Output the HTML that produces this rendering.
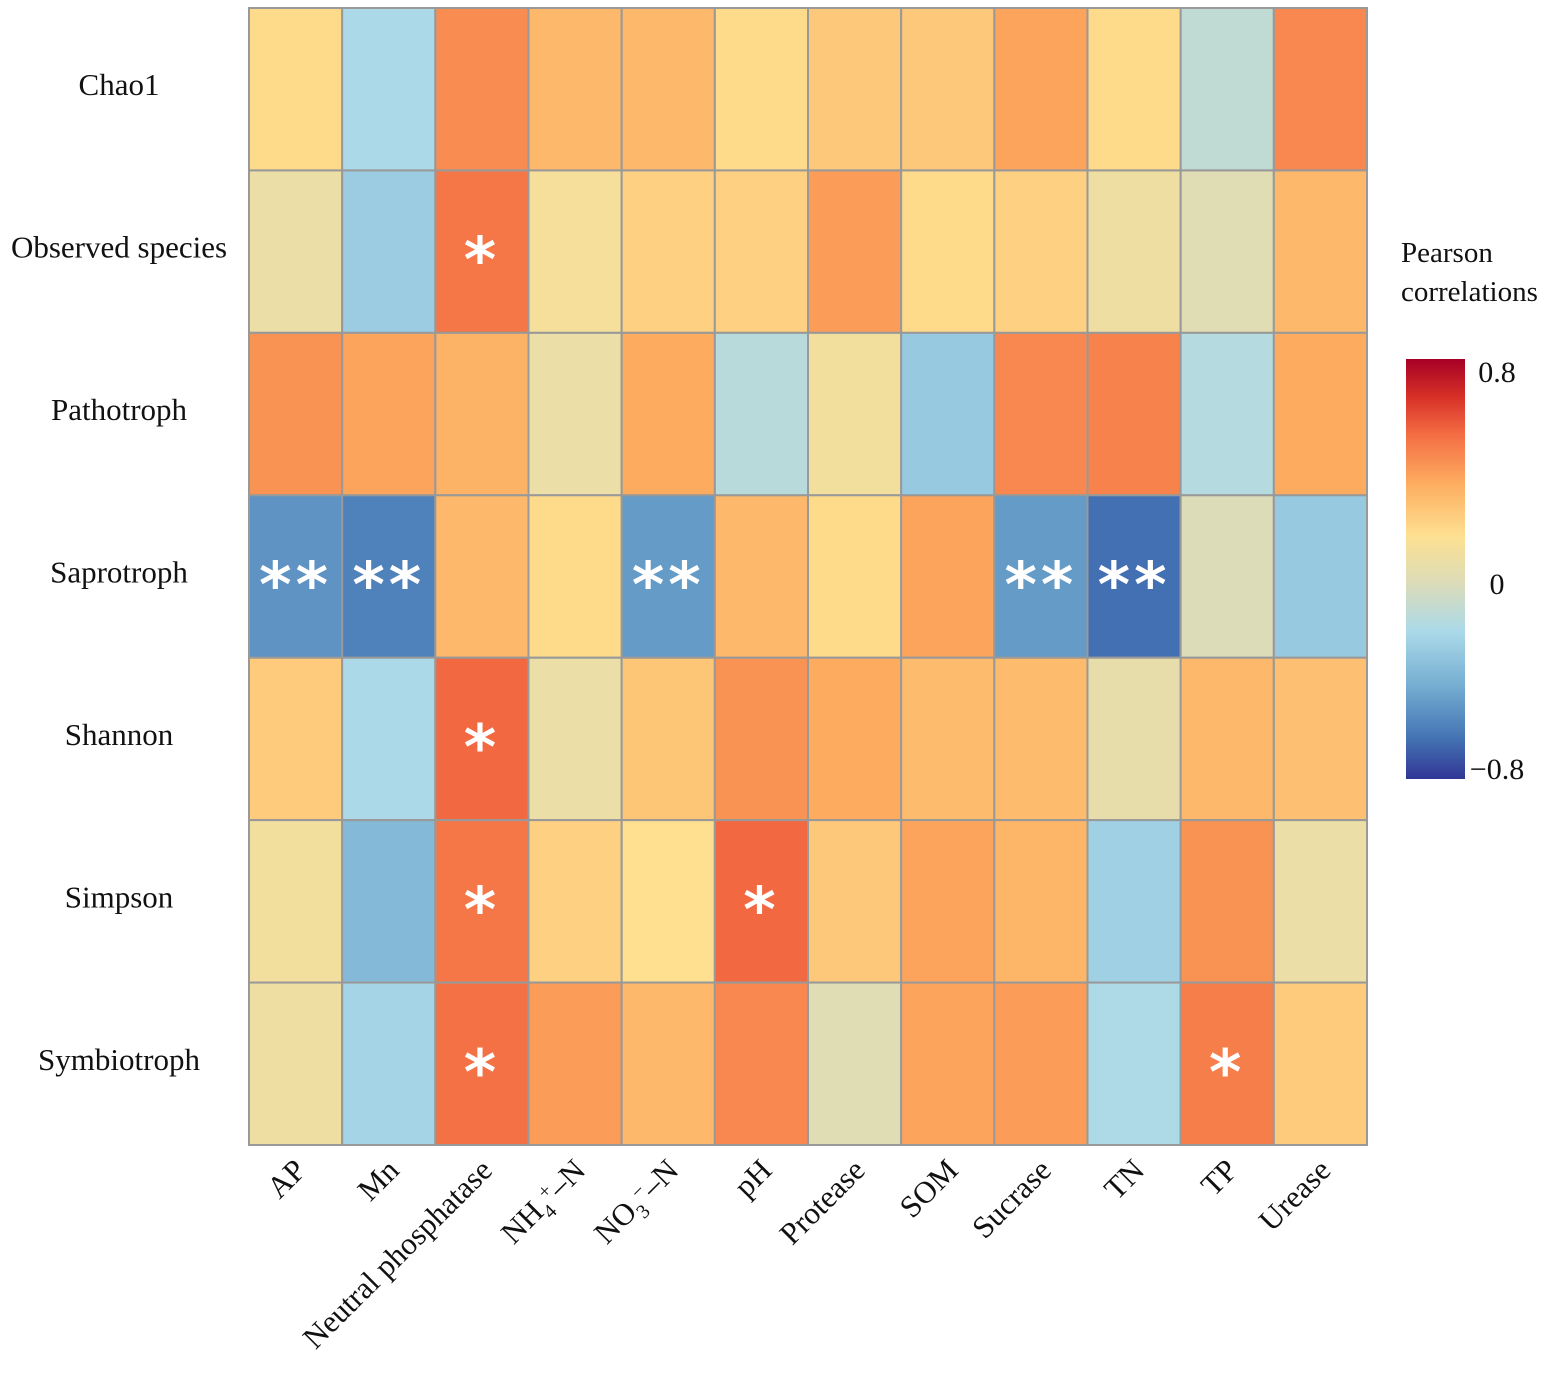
<!DOCTYPE html>
<html><head><meta charset="utf-8"><style>
body{margin:0;background:#fff}
svg{display:block;font-family:"Liberation Serif",serif}
</style></head><body>
<svg id="chart" width="1559" height="1374" viewBox="0 0 1559 1374">
<defs><linearGradient id="cb" x1="0" y1="1" x2="0" y2="0">
<stop offset="0" stop-color="#313695"/><stop offset="0.1" stop-color="#4575b4"/><stop offset="0.22" stop-color="#74add1"/><stop offset="0.35" stop-color="#abd9e9"/><stop offset="0.467" stop-color="#dcdcb8"/><stop offset="0.58" stop-color="#fee090"/><stop offset="0.7" stop-color="#fdae61"/><stop offset="0.82" stop-color="#f46d43"/><stop offset="0.91" stop-color="#d73027"/><stop offset="1" stop-color="#a50026"/>
</linearGradient></defs>
<g id="cells"></g><g id="rowlabels"></g><g id="collabels"></g><g id="legend"></g>
</svg>
<script>
const rows=["Chao1","Observed species","Pathotroph","Saprotroph","Shannon","Simpson","Symbiotroph"];
const cols=["AP","Mn","Neutral phosphatase","NH4+-N","NO3--N","pH","Protease","SOM","Sucrase","TN","TP","Urease"];
const rChao1=[.2,-.21,.47,.33,.33,.2,.27,.27,.4,.2,-.12,.48];
const rObs=[.08,-.28,.53,.13,.24,.24,.42,.2,.24,.1,.02,.33];
const rPatho=[.45,.4,.35,.08,.38,-.15,.12,-.3,.48,.5,-.17,.38];
const rSapro=[-.55,-.62,.33,.2,-.52,.33,.2,.4,-.52,-.68,0,-.3];
const rShannon=[.26,-.21,.57,.08,.28,.45,.38,.32,.32,.06,.33,.3];
const rSimpson=[.12,-.38,.53,.24,.18,.57,.27,.4,.34,-.26,.45,.08];
const rSymbio=[.1,-.24,.55,.42,.33,.48,.02,.4,.42,-.2,.51,.26];
const values=[rChao1,rObs,rPatho,rSapro,rShannon,rSimpson,rSymbio];
const sChao1=["","","","","","","","","","","",""];
const sObs=["","","*","","","","","","","","",""];
const sPatho=["","","","","","","","","","","",""];
const sSapro=["**","**","","","**","","","","**","**","",""];
const sShannon=["","","*","","","","","","","","",""];
const sSimpson=["","","*","","","*","","","","","",""];
const sSymbio=["","","*","","","","","","","","*",""];
const stars=[sChao1,sObs,sPatho,sSapro,sShannon,sSimpson,sSymbio];
const legendTicks=[0.8,0,-0.8];
const legendLabels=["0.8","0","\u22120.8"];

const NS="http://www.w3.org/2000/svg";
const X0=249,X1=1367,Y0=8,Y1=1145;
const cw=(X1-X0)/cols.length, rh=(Y1-Y0)/rows.length;
const stopF=[0,.1,.22,.35,.467,.58,.7,.82,.91,1];
const stopC=["#313695","#4575b4","#74add1","#abd9e9","#dcdcb8","#fee090","#fdae61","#f46d43","#d73027","#a50026"];
function frac(v){return v>=0?0.467+v*0.63:0.467+v*0.551;}
function hex(h){return [1,3,5].map(i=>parseInt(h.substr(i,2),16));}
function color(v){let f=Math.max(0,Math.min(1,frac(v)));let i=0;while(i<stopF.length-2&&f>stopF[i+1])i++;
const t=(f-stopF[i])/(stopF[i+1]-stopF[i]);const a=hex(stopC[i]),b=hex(stopC[i+1]);
return "rgb("+a.map((x,k)=>Math.round(x+(b[k]-x)*t)).join(",")+")";}
function xS(j){return X0+j*cw;} function yS(i){return Y0+i*rh;}
function el(t,a,p){const e=document.createElementNS(NS,t);for(const k in a)e.setAttribute(k,a[k]);p.appendChild(e);return e;}
const gc=document.getElementById("cells");
values.forEach((row,i)=>row.forEach((v,j)=>{
 const r=el("rect",{x:xS(j),y:yS(i),width:cw,height:rh,fill:color(v),stroke:"#999","stroke-width":2},gc);
 
 
 if(stars[i][j]){const s=el("text",{x:xS(j)+cw/2,y:yS(i)+rh/2+30,"text-anchor":"middle","font-size":62,"font-weight":"bold","font-family":"DejaVu Sans, sans-serif",fill:"#fff","letter-spacing":"4"},gc);
 s.textContent=stars[i][j];
 
 }
}));
const gr=document.getElementById("rowlabels");
rows.forEach((n,i)=>{const t=el("text",{x:119,y:yS(i)+rh/2+6,"text-anchor":"middle","font-size":31,fill:"#111"},gr);t.textContent=n;
 
 });
const gx=document.getElementById("collabels");
cols.forEach((n,j)=>{const cx=xS(j)+cw/2+12,cy=1172;
 const t=el("text",{x:cx,y:cy,"text-anchor":"end","font-size":31,fill:"#111",transform:"rotate(-45 "+cx+" "+cy+")"},gx);
 
 
 if(n==="NH4+-N"){t.innerHTML='NH<tspan font-size="20" dy="8">4</tspan><tspan font-size="20" dy="-18">+</tspan><tspan dy="10">\u2013N</tspan>';}
 else if(n==="NO3--N"){t.innerHTML='NO<tspan font-size="20" dy="8">3</tspan><tspan font-size="20" dy="-18">\u2212</tspan><tspan dy="10">\u2013N</tspan>';}
 else t.textContent=n;});
const gl=document.getElementById("legend");
const t1=el("text",{x:1401,y:262,"font-size":29,fill:"#111"},gl);t1.textContent="Pearson";


const t2=el("text",{x:1401,y:301,"font-size":29,fill:"#111"},gl);t2.textContent="correlations";


const LY0=359,LY1=779;
const bar=el("rect",{x:1406,y:LY0,width:59,height:LY1-LY0,fill:"url(#cb)"},gl);


function ly(v){return LY1-frac(v)*(LY1-LY0);}
legendTicks.forEach((v,k)=>{const y=ly(v);
 const tl=el("text",{x:1497,y:y+11,"text-anchor":"middle","font-size":30,fill:"#111"},gl);tl.textContent=legendLabels[k];
 
 });
</script>
</body></html>
